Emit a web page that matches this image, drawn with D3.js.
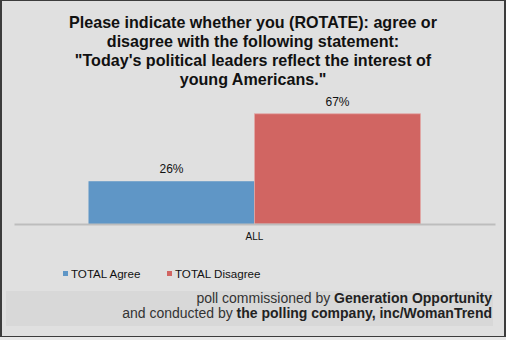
<!DOCTYPE html>
<html><head><meta charset="utf-8">
<script src="https://cdn.jsdelivr.net/npm/d3@7"></script>
<style>html,body{margin:0;padding:0;background:#e8e8e8;}svg{display:block;}</style>
</head><body>
<svg id="c" width="506" height="340"></svg>
<script>
const titleLines = ["Please indicate whether you (ROTATE): agree or","disagree with the following statement:","\"Today's political leaders reflect the interest of","young Americans.\""];
const categories = ["ALL"];
const seriesNames = ["TOTAL Agree","TOTAL Disagree"];
const seriesValues = [26, 67];
const seriesColors = ["#5f96c6","#d16562"];
const valueLabels = ["26%","67%"];

const svg = d3.select("#c");
const font = "Liberation Sans, Arial, sans-serif";
// background panel with border
svg.append("rect").attr("x",0).attr("y",0).attr("width",506).attr("height",337).attr("fill","#3c3c3c");
svg.append("rect").attr("x",2).attr("y",1).attr("width",502).attr("height",335).attr("fill","#e0e0e0");

// title
svg.append("g").selectAll("text").data(titleLines).join("text")
  .attr("x",253).attr("y",(d,i)=>28+i*19).attr("text-anchor","middle")
  .attr("font-family",font).attr("font-weight","bold").attr("font-size",16.1).attr("fill","#111")
  .text(d=>d);

const y = d3.scaleLinear().domain([0,100]).range([224, 224-164.5]);
const x0 = d3.scaleBand().domain(categories).range([14,495]).paddingInner(0).paddingOuter(0.2244);
const x1 = d3.scaleBand().domain(seriesNames).range([0,x0.bandwidth()]).padding(0);

const g = svg.append("g");
categories.forEach(cat=>{
  const gg = g.append("g").attr("transform",`translate(${x0(cat)},0)`);
  gg.selectAll("rect").data(seriesNames).join("rect")
    .attr("x",d=>x1(d)).attr("width",x1.bandwidth())
    .attr("y",(d,i)=>y(seriesValues[i])).attr("height",(d,i)=>y(0)-y(seriesValues[i]))
    .attr("fill",(d,i)=>seriesColors[i])
    .attr("stroke",(d,i)=>i===1?"#e2a9a6":"none").attr("stroke-width",0.8);
  gg.selectAll("text").data(seriesNames).join("text")
    .attr("x",d=>x1(d)+x1.bandwidth()/2).attr("y",(d,i)=>y(seriesValues[i])-8)
    .attr("text-anchor","middle").attr("font-family",font).attr("font-size",12).attr("fill","#111")
    .text((d,i)=>valueLabels[i]);
});

// axis
const ax = svg.append("g").attr("transform",`translate(0,${y(0)})`)
  .call(d3.axisBottom(x0).tickSize(0).tickPadding(9));
ax.select(".domain").attr("stroke","#bdbdbd").attr("stroke-width",2);
ax.selectAll("text").attr("font-family",font).attr("font-size",10).attr("fill","#111");

// legend
const leg = svg.append("g");
const legX = [63,167];
seriesNames.forEach((s,i)=>{
  leg.append("rect").attr("x",legX[i]).attr("y",271).attr("width",5).attr("height",5).attr("fill",seriesColors[i]);
  leg.append("text").attr("x",legX[i]+8).attr("y",278).attr("font-family",font).attr("font-size",11.6).attr("fill","#111").text(s);
});

// footer
svg.append("rect").attr("x",6).attr("y",291).attr("width",487).attr("height",35).attr("fill","#d8d8d8");
const f1 = svg.append("text").attr("x",492).attr("y",303).attr("text-anchor","end").attr("font-family",font).attr("font-size",14).attr("fill","#333");
f1.append("tspan").text("poll commissioned by ");
f1.append("tspan").attr("font-weight","bold").attr("fill","#222").text("Generation Opportunity");
const f2 = svg.append("text").attr("x",492).attr("y",318).attr("text-anchor","end").attr("font-family",font).attr("font-size",14).attr("fill","#333");
f2.append("tspan").text("and conducted by ");
f2.append("tspan").attr("font-weight","bold").attr("fill","#222").text("the polling company, inc/WomanTrend");
</script>
</body></html>
